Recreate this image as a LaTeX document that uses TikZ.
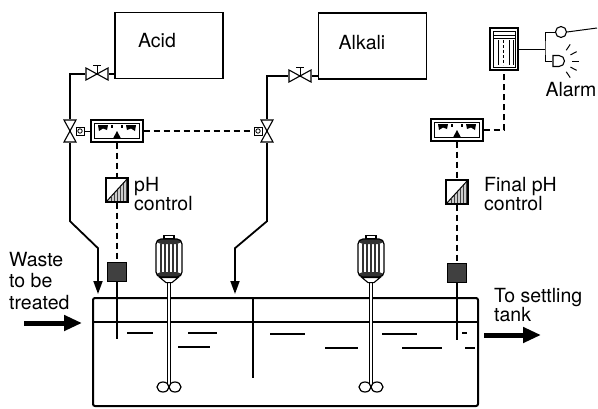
\documentclass[tikz,border=0pt]{standalone}
\usepackage{fontspec}
\setmainfont{TeX Gyre Heros}
\usetikzlibrary{arrows.meta}

\tikzset{
  pipe/.style={line width=1.8pt},
  signal/.style={line width=1.2pt, dash pattern=on 6pt off 4pt},
  feed/.style={pipe, -{Triangle[width=9pt,length=13pt]}},
  flow/.style={line width=5pt, -{Triangle[width=15pt,length=18pt]}},
  wire/.style={line width=1pt},
  txt/.style={inner sep=0pt, align=left},
  supply/.style={draw, line width=1.8pt, minimum width=108pt, minimum height=66pt},
  handvalve/.style={minimum width=24pt, minimum height=14pt, inner sep=0pt,
    path picture={\begin{scope}[shift={(path picture bounding box.center)},x=1pt,y=1pt]
      \draw[line width=1.1pt] (-11,6) -- (-11,-6) -- (11,6) -- (11,-6) -- cycle;
    \end{scope}}},
  ctrlvalve/.style={minimum width=14pt, minimum height=24pt, inner sep=0pt,
    path picture={\begin{scope}[shift={(path picture bounding box.center)},x=1pt,y=1pt]
      \draw[line width=1.1pt] (-6,11) -- (6,11) -- (-6,-11) -- (6,-11) -- cycle;
    \end{scope}}},
  actuator/.style={draw, line width=1pt, fill=white, minimum size=8pt, inner sep=0pt,
    path picture={\draw[line width=0.8pt] (path picture bounding box.center) circle (2.2pt);}},
  gauge/.style={draw, line width=1.4pt, fill=white, minimum width=52pt, minimum height=22pt, inner sep=0pt,
    path picture={\begin{scope}[shift={(path picture bounding box.center)},x=1pt,y=1pt]
      \draw[line width=0.9pt] (-22.5,7.5) rectangle (22.5,-7.5);
      \fill[black] (-19,6) -- (-9,6) -- (-10,1) -- (-14,2.5) -- (-18,0) -- cycle;
      \fill[black] (19,6) -- (9,6) -- (10,1) -- (14,2.5) -- (18,0) -- cycle;
      \fill[black] (-6,6) rectangle (-4,3);
      \fill[black] (4,6) rectangle (6,3);
      \fill[black] (-4,-7.5) -- (4,-7.5) -- (0,0) -- cycle;
    \end{scope}}},
  ctrl/.style={draw, line width=1.1pt, minimum width=22pt, minimum height=24pt, inner sep=0pt,
    path picture={\begin{scope}[shift={(path picture bounding box.center)},x=1pt,y=1pt]
      \fill[black!20] (-11,-12) -- (11,-12) -- (11,12) -- cycle;
      \foreach \x in {-6,-3,...,9}
        \draw[black!75, line width=0.9pt] (\x,-12) -- (\x,{\x*12/11});
      \draw[line width=1pt] (-11,-12) -- (11,12);
    \end{scope}}},
  probe/.style={draw, line width=1pt, fill=black!75, minimum size=19pt, inner sep=0pt},
  motor/.style={draw, line width=1.2pt, fill=white, rounded corners=5pt,
    minimum width=26pt, minimum height=38pt, inner sep=0pt,
    path picture={\begin{scope}[shift={(path picture bounding box.center)},x=1pt,y=1pt]
      \fill[black!80] (-13,19) rectangle (13,14);
      \fill[black!80] (-13,-19) rectangle (13,-14);
      \foreach \x in {-8,-4,0,4,8}
        \draw[black!80, line width=1.8pt] (\x,-14) -- (\x,14);
    \end{scope}}},
  shaft/.style={line width=0.8pt, double, double distance=2pt},
  recorder/.style={draw, line width=1.2pt, minimum width=28pt, minimum height=42pt, inner sep=0pt,
    path picture={\begin{scope}[shift={(path picture bounding box.center)},x=1pt,y=1pt]
      \draw[line width=0.8pt] (-11,18) rectangle (11,-18);
      \draw[line width=0.8pt] (-11,14) -- (11,14) (-11,11) -- (11,11);
      \draw[line width=1pt] (-6,9) -- (-6,-16) (5,9) -- (5,-16) (9,9) -- (9,-16);
      \draw[line width=1pt, dash pattern=on 3pt off 2pt] (-1,9) -- (-1,-16);
    \end{scope}}},
  bell/.style={circle, draw, line width=1.1pt, minimum size=11pt, inner sep=0pt},
  lamp/.style={minimum size=14pt, inner sep=0pt,
    path picture={\begin{scope}[shift={(path picture bounding box.center)},x=1pt,y=1pt]
      \draw[line width=1.1pt] (-6,5.5) -- (0,5.5) arc[start angle=90, end angle=-90, radius=5.5pt] -- (-6,-5.5) -- cycle;
    \end{scope}}}
}

\begin{document}
\begin{tikzpicture}[x=1pt, y=-1pt, font=\fontsize{19.5}{21.5}\selectfont]
  \useasboundingbox (0,0) rectangle (598,408);

  % Chemical supply tanks
  \node[supply] (acid) at (169,45.5) {};
  \node (acidtxt) at (157,41) {Acid};
  \node[supply] (alkali) at (372.5,46) {};
  \node (alkalitxt) at (362,43) {Alkali};

  % Hand valves
  \node[handvalve] (av) at (97,74) {};
  \node[handvalve] (bv) at (300,76) {};
  \foreach \v in {av,bv}
    \draw[line width=1pt] (\v.center) -- ++(0,-9) ++(-4,0) -- ++(8,0);
  \draw[pipe] (av.east) -- (av.east -| acid.west);
  \draw[pipe] (bv.east) -- (bv.east -| alkali.west);

  % Control valves
  \node[ctrlvalve] (acv) at (70,131) {};
  \node[actuator] (aact) at (80,131) {};
  \node[ctrlvalve] (bcv) at (267,131) {};
  \node[actuator] (bact) at (258,131) {};
  \draw[pipe] (av.west) -| (acv.north);
  \draw[pipe] (bv.west) -| (bcv.north);

  % Dosing lines
  \coordinate (acidin) at (98,294);
  \coordinate (alkin) at (235,294);
  \draw[feed] (acv.south) -- ++(0,78) -- ++(28,27) -- (acidin);
  \draw[feed] (bcv.south) -- ++(0,78) -- ++(-32,27) -- (alkin);

  % Indicators and controllers
  \node[gauge] (g1) at (117,131) {};
  \node[gauge] (g2) at (457,130) {};
  \node[ctrl] (c1) at (117,190) {};
  \node[ctrl] (c2) at (457,192) {};
  \node[probe] (s1) at (117,272) {};
  \node[probe] (s2) at (457,273) {};
  \draw[wire] (aact) -- (g1);
  \draw[signal] (g1) -- (bact);
  \draw[signal] (g1) -- (c1) -- (s1);
  \draw[signal] (g2) -- (c2) -- (s2);
  \draw[line width=2.6pt] (s1.south) -- ++(0,57);
  \draw[line width=2.6pt] (s2.south) -- ++(0,57);

  \node[txt, anchor=north west, font=\fontsize{19.5}{16.5}\selectfont] (phtxt) at (134,177) {pH\\control};
  \node[txt, anchor=north west, font=\fontsize{19.5}{16.5}\selectfont] (finaltxt) at (484,177) {Final pH\\control};

  % Alarm
  \node[recorder] (rec) at (504,49) {};
  \node[bell] (bell) at (561,32) {};
  \node[lamp] (lamp) at (559,61) {};
  \coordinate (aj) at (545,49);
  \coordinate (horn) at (597,28);
  \draw[signal] (g2.east) -| (rec.south);
  \draw[wire] (rec.east) -- (aj);
  \draw[wire] (bell.west) -| (aj) |- (lamp.west);
  \draw[wire] (bell.east) -- (horn);
  \foreach \a in {-56,-28,0,28,56}
    \draw[wire] (lamp.center) ++(\a:13) -- ++(\a:7);
  \node (alarmtxt) at (571,90) {Alarm};

  % Neutralisation tank
  \draw[line width=2pt, rounded corners=2pt] (93,298) rectangle (478,406);
  \draw[line width=2.5pt] (93,322) -- (478,322);
  \draw[line width=2pt] (253,298) -- (253,378);
  \foreach \a/\b/\y in {127/153/333, 188/217/333, 178/210/347, 270/305/334,
      382/417/334, 325/358/348, 402/442/348, 462/467/333, 465/475/348}
    \draw[line width=1.1pt] (\a,\y) -- (\b,\y);

  % Mixers
  \node[motor] (m1) at (169,258) {};
  \node[motor] (m2) at (371,258) {};
  \coordinate (imp1) at (169,387);
  \coordinate (imp2) at (371,387);
  \foreach \m/\i in {m1/imp1, m2/imp2} {
    \draw[shaft] (\m.south) -- (\i);
    \draw[line width=1.1pt, fill=white] (\m.south) ++(-9,0) -- ++(18,0) -- ++(-6,5) -- ++(-6,0) -- cycle;
    \draw[line width=1.1pt, fill=white] (\m.north) ++(-5,0) rectangle ++(10,-3);
    \draw[line width=1.2pt, fill=white] (\i) ++(-6,0) ellipse [x radius=6pt, y radius=5pt]
      (\i) ++(6,0) ellipse [x radius=6pt, y radius=5pt];
  }

  % Inlet and outlet
  \coordinate (wstart) at (24,323);
  \coordinate (wend) at (82,323);
  \coordinate (sstart) at (484,335);
  \coordinate (send) at (541,335);
  \draw[flow] (wstart) -- (wend);
  \draw[flow] (sstart) -- (send);
  \node[txt, anchor=north west] (waste) at (9,252) {Waste\\to be\\treated};
  \node[txt, anchor=north west, font=\fontsize{19.5}{17}\selectfont] (settle) at (494,288) {To settling\\tank};
\end{tikzpicture}
\end{document}
